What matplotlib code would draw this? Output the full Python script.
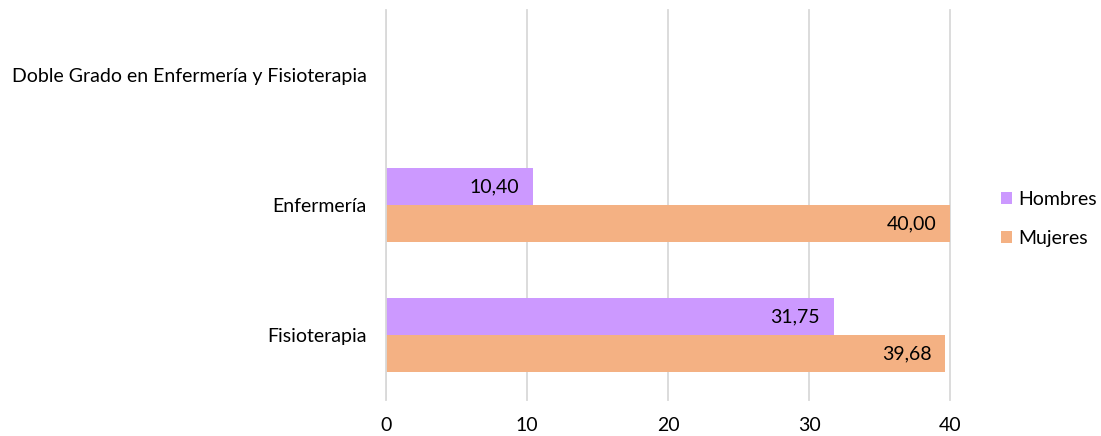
import matplotlib
matplotlib.use("Agg")
import matplotlib.pyplot as plt
import numpy as np

categories = ["Doble Grado en Enfermería y Fisioterapia", "Enfermería", "Fisioterapia"]
hombres = [np.nan, 10.40, 31.75]
mujeres = [np.nan, 40.00, 39.68]
xticks = [0, 10, 20, 30, 40]

plt.rcParams['font.family'] = ['Lato', 'DejaVu Sans']
FS = 14

fig = plt.figure(figsize=(11.01, 4.36), dpi=100)
ax = fig.add_axes([386/1101, 1-400/436, (950-386)/1101, 390/436])

c_h = "#CC99FF"
c_m = "#F4B183"
h = 0.285
y = np.arange(len(categories))
ax.barh(y - h/2, hombres, height=h, color=c_h, label="Hombres", zorder=3)
ax.barh(y + h/2, mujeres, height=h, color=c_m, label="Mujeres", zorder=3)

def fmt(v):
    return f"{v:.2f}".replace(".", ",")

for i in range(len(categories)):
    for vals, off in ((hombres, -h/2), (mujeres, h/2)):
        v = vals[i]
        if not np.isnan(v):
            ax.annotate(fmt(v), (v, y[i] + off), xytext=(-10, 0), textcoords="offset points",
                        ha="right", va="center", fontsize=FS, color="#000000", zorder=4)

ax.set_ylim(len(categories) - 0.5, -0.5)
ax.set_xlim(0, 40)
ax.set_xticks(xticks)
ax.set_xticklabels([str(t) for t in xticks], fontsize=FS)
ax.set_yticks(y)
ax.set_yticklabels(categories, fontsize=FS)
ax.tick_params(axis="x", length=0, pad=12)
ax.tick_params(axis="y", length=0, pad=14)
ax.grid(axis="x", color="#D9D9D9", linewidth=1.3, zorder=0, clip_on=False)
for s in ax.spines.values():
    s.set_visible(False)
ax.axvline(0, color="#D9D9D9", linewidth=1.3, zorder=5)

ax.legend(loc="center left", bbox_to_anchor=(1001/1101, 217/436), bbox_transform=fig.transFigure,
          frameon=False, fontsize=14, handlelength=0.55, handleheight=0.55, labelspacing=1.15,
          handletextpad=0.35, borderpad=0, borderaxespad=0)

fig.savefig("out.png", dpi=100)
